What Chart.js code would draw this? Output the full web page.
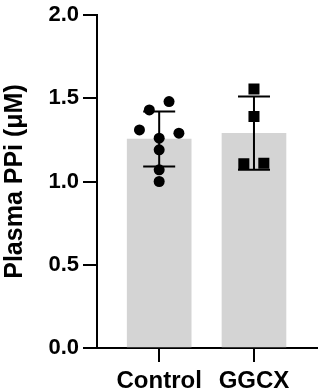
<!DOCTYPE html>
<html>
<head>
<meta charset="utf-8">
<script src="https://cdn.jsdelivr.net/npm/chart.js@4/dist/chart.umd.min.js"></script>
<style>
    html, body { margin: 0; padding: 0; background: #fff; }
    #wrap { width: 325px; height: 392px; }
</style>
</head>
<body>
<div id="wrap"><canvas id="myChart" width="325" height="392"></canvas></div>
<script>
'use strict';

// groups on the x axis
var groups = ['Control', 'GGCX'];
// bar height (mean) and error bar (SD) per group
var means = [1.255, 1.29];
var sds = [0.165, 0.22];

// individual animals, x offset is the jitter inside the group
var controlValues = [1.48, 1.43, 1.31, 1.29, 1.26, 1.19, 1.07, 1.00];
var controlJitter = [0.104, -0.104, -0.208, 0.208, 0, 0, 0, 0];
var ggcxValues = [1.556, 1.39, 1.106, 1.11];
var ggcxJitter = [0, 0, -0.107, 0.104];

var yTicks = [0, 0.5, 1.0, 1.5, 2.0];

Chart.defaults.font.family = '"Liberation Sans", Arial, sans-serif';
Chart.defaults.font.weight = 'bold';
Chart.defaults.color = '#000';

function toPoints(values, jitter, groupIndex) {
    return values.map(function(v, i) {
        return {x: groupIndex + jitter[i], y: v};
    });
}

// mean +/- SD whiskers, drawn right after the bars
var errorBars = {
    id: 'errorBars',
    afterDatasetDraw: function(chart, args) {
        if (args.meta.type !== 'bar') return;
        var ctx = chart.ctx;
        var xs = chart.scales.x;
        var ys = chart.scales.y;
        ctx.save();
        ctx.strokeStyle = '#000';
        ctx.lineWidth = 2;
        means.forEach(function(m, i) {
            var x = xs.getPixelForValue(i);
            var top = ys.getPixelForValue(m + sds[i]);
            var bot = ys.getPixelForValue(m - sds[i]);
            ctx.beginPath();
            ctx.moveTo(x, top);
            ctx.lineTo(x, bot);
            ctx.moveTo(x - 16, top);
            ctx.lineTo(x + 16, top);
            ctx.moveTo(x - 16, bot);
            ctx.lineTo(x + 16, bot);
            ctx.stroke();
        });
        ctx.restore();
    }
};

var chart = new Chart(document.getElementById('myChart').getContext('2d'), {
    type: 'bar',
    data: {
        datasets: [{
            type: 'scatter',
            data: toPoints(controlValues, controlJitter, 0),
            pointStyle: 'circle',
            pointRadius: 5.5,
            backgroundColor: '#000',
            borderColor: '#000',
            borderWidth: 0,
            order: 1
        }, {
            type: 'scatter',
            data: toPoints(ggcxValues, ggcxJitter, 1),
            pointStyle: 'rect',
            pointRadius: 7.8,
            backgroundColor: '#000',
            borderColor: '#000',
            borderWidth: 0,
            order: 1
        }, {
            type: 'bar',
            data: means.map(function(m, i) { return {x: i, y: m}; }),
            backgroundColor: '#d4d4d4',
            borderWidth: 0,
            barThickness: 64,
            order: 2
        }]
    },
    options: {
        responsive: false,
        animation: false,
        layout: {padding: {top: 13, right: 5, left: 0, bottom: 0}},
        plugins: {legend: {display: false}, tooltip: {enabled: false}},
        scales: {
            x: {
                type: 'linear',
                offset: false,
                min: -0.656,
                max: 1.667,
                afterBuildTicks: function(scale) {
                    scale.ticks = groups.map(function(g, i) { return {value: i}; });
                },
                afterFit: function(scale) { scale.height = 44; },
                ticks: {
                    callback: function(v) { return groups[v]; },
                    font: {size: 24, weight: 'bold'},
                    padding: 5,
                    maxRotation: 0,
                    autoSkip: false
                },
                grid: {offset: false, drawOnChartArea: false, drawTicks: true, tickLength: 14, color: '#000', lineWidth: 2},
                border: {display: true, color: '#000', width: 2}
            },
            y: {
                min: 0,
                max: 2,
                afterBuildTicks: function(scale) {
                    scale.ticks = yTicks.map(function(v) { return {value: v}; });
                },
                afterFit: function(scale) { scale.width = 97; },
                ticks: {
                    callback: function(v) { return v.toFixed(1); },
                    font: {size: 22, weight: 'bold', lineHeight: 1},
                    padding: 4
                },
                title: {
                    display: true,
                    text: 'Plasma PPi (μM)',
                    font: {size: 25, weight: 'bold'},
                    padding: {top: 0, bottom: 0}
                },
                grid: {drawOnChartArea: false, drawTicks: true, tickLength: 14, color: '#000', lineWidth: 2},
                border: {display: true, color: '#000', width: 2}
            }
        }
    },
    plugins: [errorBars]
});
</script>
</body>
</html>
